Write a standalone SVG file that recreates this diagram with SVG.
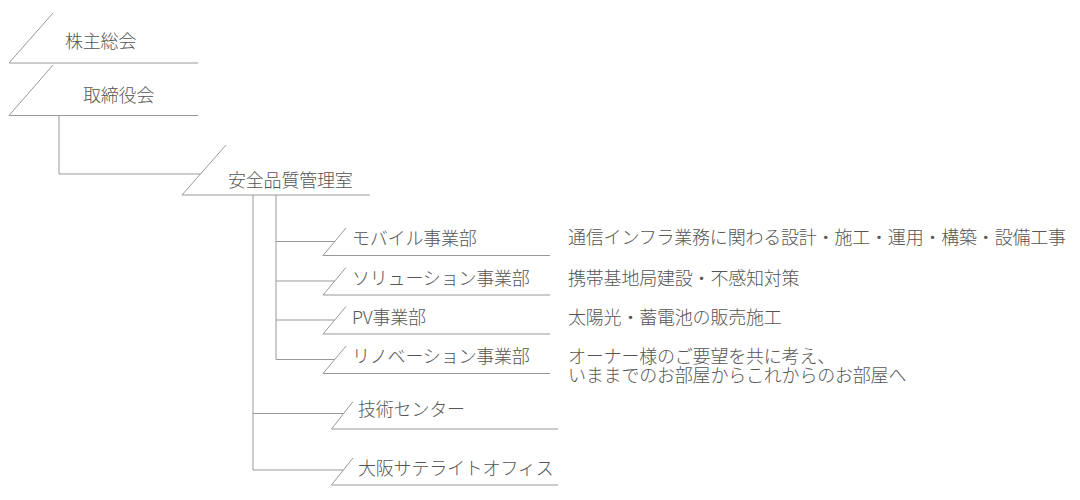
<svg xmlns="http://www.w3.org/2000/svg" width="1080" height="500" viewBox="0 0 1080 500">
<style>
.ln{fill:none;stroke:#999;stroke-width:1}
.t{font-family:"Noto Sans CJK JP","Noto Sans",sans-serif;font-size:18px;font-weight:300;fill:#555;letter-spacing:-0.2px}
</style>
<rect width="1080" height="500" fill="#fff"/>
<g id="connectors">
<path class="ln" d="M59,115.5 V174 H200.5"/>
<path class="ln" d="M276,195 V359.5 H334.7"/>
<path class="ln" d="M276,241.5 H334.7"/>
<path class="ln" d="M276,281 H334.7"/>
<path class="ln" d="M276,320 H334.7"/>
<path class="ln" d="M253,195 V470 H343.2"/>
<path class="ln" d="M253,413.5 H343.6"/>
</g>
<g id="n-kabunushi"><path class="ln" d="M53,13 L9,63 H198"/><text class="t" x="65" y="48">株主総会</text></g>
<g id="n-torishimariyaku"><path class="ln" d="M53,65 L9,115.5 H198"/><text class="t" x="83" y="101.5">取締役会</text></g>
<g id="n-anzen"><path class="ln" d="M226,145 L182,195 H370"/><text class="t" x="228" y="186.5">安全品質管理室</text></g>
<g id="n-mobile"><path class="ln" d="M346,228 L323,255.5 H550"/><text class="t" x="352" y="244.5">モバイル事業部</text><text class="t" x="568" y="243.5">通信インフラ業務に関わる設計・施工・運用・構築・設備工事</text></g>
<g id="n-solution"><path class="ln" d="M346,267.5 L323,295 H550"/><text class="t" x="352" y="284.5">ソリューション事業部</text><text class="t" x="568" y="285">携帯基地局建設・不感知対策</text></g>
<g id="n-pv"><path class="ln" d="M346,306.5 L323,334 H550"/><text class="t" x="352" y="323.5">PV事業部</text><text class="t" x="568" y="323.5">太陽光・蓄電池の販売施工</text></g>
<g id="n-renovation"><path class="ln" d="M346,346 L323,373.5 H550"/><text class="t" x="352" y="362.5">リノベーション事業部</text><text class="t"><tspan x="568" y="362.5">オーナー様のご要望を共に考え、</tspan><tspan x="568" y="382">いままでのお部屋からこれからのお部屋へ</tspan></text></g>
<g id="n-gijutsu"><path class="ln" d="M353,401.5 L331.5,429 H558"/><text class="t" x="358" y="415.5">技術センター</text></g>
<g id="n-osaka"><path class="ln" d="M353,458 L331.5,485 H558"/><text class="t" x="358" y="474.5">大阪サテライトオフィス</text></g>
</svg>
